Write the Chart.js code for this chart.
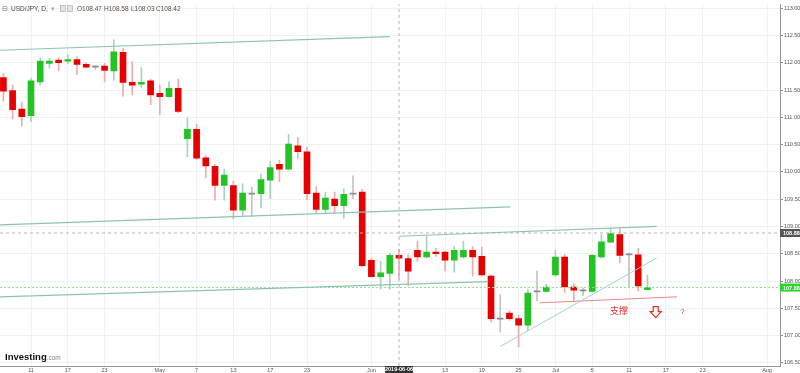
<!DOCTYPE html>
<html>
<head>
<meta charset="utf-8">
<script src="https://cdn.jsdelivr.net/npm/chart.js@4.4.1/dist/chart.umd.min.js"></script>
<style>
    html, body { margin: 0; padding: 0; background: #fff; }
    #wrap { width: 800px; height: 373px; position: relative; }
</style>
</head>
<body>
<div id="wrap"><canvas id="usdjpyChart"></canvas></div>
<script>
// USD/JPY daily candles, one entry per trading day from Apr 8 to Jul 15 (index 1..71)
const openP = [111.73, 111.49, 111.15, 111.03, 111.65, 111.99, 112.05, 112.03, 112.06, 111.97,
    111.92, 111.94, 111.85, 112.19, 111.64, 111.61, 111.67, 111.44, 111.38, 111.53,
    110.61, 110.78, 110.26, 110.10, 109.75, 109.75, 109.30, 109.61, 109.60, 109.85,
    110.14, 110.05, 110.48, 110.37, 109.61, 109.31, 109.50, 109.38, 109.61, 109.63,
    108.38, 108.08, 108.14, 108.47, 108.41, 108.56, 108.44, 108.53, 108.53, 108.38,
    108.44, 108.56, 108.45, 108.09, 107.31, 107.41, 107.31, 107.19, 107.80, 107.81,
    108.11, 108.44, 107.89, 107.83, 107.81, 108.44, 108.71, 108.85, 108.48, 108.48,
    107.84];
const highP = [111.80, 111.59, 111.28, 111.72, 112.09, 112.08, 112.09, 112.15, 112.11, 112.00,
    111.95, 111.99, 112.42, 112.26, 112.02, 111.91, 111.70, 111.59, 111.65, 111.70,
    110.99, 110.87, 110.30, 110.14, 110.05, 109.83, 109.78, 109.72, 109.96, 110.19,
    110.21, 110.69, 110.63, 110.45, 109.73, 109.63, 109.63, 109.69, 109.93, 109.68,
    108.42, 108.36, 108.51, 108.58, 108.48, 108.73, 108.82, 108.60, 108.54, 108.63,
    108.73, 108.63, 108.62, 108.11, 107.75, 107.46, 107.37, 107.85, 108.18, 107.94,
    108.56, 108.49, 107.95, 107.87, 108.49, 108.85, 108.97, 108.97, 108.51, 108.60,
    108.11];
const lowP = [111.30, 110.97, 110.84, 110.92, 111.59, 111.90, 111.85, 111.99, 111.78, 111.91,
    111.88, 111.65, 111.68, 111.39, 111.41, 111.55, 111.23, 111.05, 111.37, 111.08,
    110.28, 110.23, 109.89, 109.48, 109.48, 109.14, 109.18, 109.18, 109.34, 109.51,
    109.82, 110.03, 110.25, 109.49, 109.25, 109.23, 109.25, 109.15, 109.51, 108.26,
    108.07, 107.85, 107.85, 108.03, 107.91, 108.36, 108.42, 108.45, 108.18, 108.16,
    108.42, 108.09, 108.09, 107.25, 107.06, 107.28, 106.79, 107.09, 107.64, 107.80,
    108.09, 107.79, 107.64, 107.73, 107.80, 108.42, 108.71, 108.33, 107.88, 107.82,
    107.84];
const closeP = [111.48, 111.14, 111.01, 111.67, 112.03, 112.03, 112.00, 112.06, 111.97, 111.92,
    111.94, 111.86, 112.20, 111.64, 111.59, 111.64, 111.41, 111.38, 111.53, 111.11,
    110.78, 110.25, 110.11, 109.75, 109.94, 109.30, 109.61, 109.59, 109.86, 110.08,
    110.05, 110.51, 110.37, 109.60, 109.31, 109.52, 109.38, 109.59, 109.59, 108.28,
    108.08, 108.15, 108.47, 108.42, 108.18, 108.44, 108.53, 108.50, 108.38, 108.56,
    108.56, 108.44, 108.11, 107.31, 107.30, 107.31, 107.19, 107.78, 107.81, 107.89,
    108.44, 107.89, 107.83, 107.82, 108.47, 108.72, 108.87, 108.47, 108.50, 107.91,
    107.88];

// x axis labels (trading-day index -> text)
const tickIdx = [4, 8, 12, 18, 22, 26, 30, 34, 41, 49, 53, 57, 61, 65, 69, 73, 77, 84];
const tickText = ['11', '17', '23', 'May', '7', '13', '17', '23', 'Jun', '13', '19', '25', 'Jul', '5', '11', '17', '23', 'Aug'];

// hand drawn lines, [index, price] end points
const lineTop = [[0.6, 112.23], [43.0, 112.48]];
const lineMid = [[0.6, 109.03], [56.1, 109.36]];
const lineLow = [[0.6, 107.71], [53.7, 107.99]];
const lineHigh = [[44.0, 108.82], [72.0, 109.00]];
const lineRise = [[55.0, 106.80], [72.0, 108.42]];
const lineSupport = [[59.3, 107.60], [74.2, 107.71]];

const crossIdx = 44;
const crossPrice = 108.88;
const crossDate = '2019-06-06';

const X_MIN = 0.63, X_MAX = 85.41;
const Y_MIN = 106.442, Y_MAX = 113.072;

const UP = '#22c322', DOWN = '#e60000', FLAT = '#8a8a8a';

function candleColor(i) {
    const d = closeP[i] - openP[i];
    if (Math.abs(d) < 0.025) return FLAT;
    return d > 0 ? UP : DOWN;
}
function wickColor(i) {
    const c = candleColor(i);
    if (c === UP) return '#a2d6bd';
    if (c === DOWN) return '#f2abab';
    return '#c4c4c4';
}

function segment(pts, color, width, dash) {
    return {
        type: 'line',
        data: pts.map(p => ({ x: p[0], y: p[1] })),
        borderColor: color,
        borderWidth: width,
        borderDash: dash || [],
        pointRadius: 0,
        fill: false,
        order: -1
    };
}

const overlay = {
    id: 'overlay',
    afterDraw(chart) {
        const ctx = chart.ctx;
        const x = chart.scales.x, y = chart.scales.y;
        const area = chart.chartArea;
        ctx.save();

        // header line
        const h = crossIdx - 1;
        ctx.textBaseline = 'middle';
        ctx.font = '6.5px Arial, "Liberation Sans"';
        ctx.fillStyle = '#777';
        ctx.fillText('⊟', 2, 9);
        ctx.fillStyle = '#444';
        ctx.fillText('USD/JPY, D,', 11, 9);
        ctx.fillStyle = '#aaa';
        ctx.fillText('▾', 51, 9);
        ctx.fillStyle = '#e4e4e4';
        ctx.strokeStyle = '#bbb';
        ctx.lineWidth = 0.8;
        ctx.fillRect(60.5, 5.5, 5, 6); ctx.strokeRect(60.5, 5.5, 5, 6);
        ctx.fillRect(67.5, 5.5, 5, 6); ctx.strokeRect(67.5, 5.5, 5, 6);
        ctx.fillStyle = '#5a4a44';
        ctx.fillText('O' + openP[h].toFixed(2), 77, 9);
        ctx.fillText('H' + highP[h].toFixed(2), 104, 9);
        ctx.fillText('L' + lowP[h].toFixed(2), 131, 9);
        ctx.fillText('C' + closeP[h].toFixed(2), 156, 9);

        // logo
        ctx.textBaseline = 'alphabetic';
        ctx.fillStyle = '#111';
        ctx.font = 'bold 9.5px Arial, "Liberation Sans"';
        ctx.fillText('Investing', 5, 360);
        const w = ctx.measureText('Investing').width;
        ctx.fillStyle = '#888';
        ctx.font = '6.5px Arial, "Liberation Sans"';
        ctx.fillText('.com', 5 + w, 360);

        // price boxes on the right axis
        ctx.textBaseline = 'middle';
        ctx.font = 'bold 5.5px Arial, "Liberation Sans"';
        const boxes = [[crossPrice, '#555'], [closeP[closeP.length - 1], '#2bd42b']];
        boxes.forEach(b => {
            const py = y.getPixelForValue(b[0]);
            ctx.fillStyle = b[1];
            ctx.fillRect(area.right, py - 4, chart.width - area.right, 8);
            ctx.fillStyle = '#fff';
            ctx.fillText(b[0].toFixed(2), area.right + 3, py + 0.5);
        });

        // date box under the crosshair
        const cx = x.getPixelForValue(crossIdx);
        ctx.fillStyle = '#333';
        ctx.fillRect(cx - 14, area.bottom, 28, chart.height - area.bottom);
        ctx.fillStyle = '#fff';
        ctx.textAlign = 'center';
        ctx.fillText(crossDate, cx, area.bottom + 3.5);

        // notes
        ctx.fillStyle = '#e23030';
        ctx.font = '9px "Noto Sans CJK SC"';
        ctx.fillText('支撑', x.getPixelForValue(67.9), y.getPixelForValue(107.46));
        ctx.font = '8px Arial, "Liberation Sans"';
        ctx.fillText('?', x.getPixelForValue(74.8), y.getPixelForValue(107.44));

        // down arrow
        const ax = x.getPixelForValue(71.9), ay = y.getPixelForValue(107.53);
        ctx.strokeStyle = '#e23030';
        ctx.lineWidth = 1.2;
        ctx.beginPath();
        ctx.moveTo(ax - 2.5, ay);
        ctx.lineTo(ax + 2.5, ay);
        ctx.lineTo(ax + 2.5, ay + 5);
        ctx.lineTo(ax + 5.5, ay + 5);
        ctx.lineTo(ax, ay + 11);
        ctx.lineTo(ax - 5.5, ay + 5);
        ctx.lineTo(ax - 2.5, ay + 5);
        ctx.closePath();
        ctx.stroke();

        ctx.restore();
    }
};

const ctx = document.getElementById('usdjpyChart').getContext('2d');
const chart = new Chart(ctx, {
    type: 'bar',
    data: {
        datasets: [
            {
                label: 'body',
                data: openP.map((o, i) => ({ x: i + 1, y: [o, closeP[i]] })),
                backgroundColor: openP.map((o, i) => candleColor(i)),
                borderColor: openP.map((o, i) => candleColor(i)),
                borderWidth: 0,
                barThickness: 6,
                minBarLength: 1,
                grouped: false,
                order: 0
            },
            {
                label: 'wick',
                data: lowP.map((l, i) => ({ x: i + 1, y: [l, highP[i]] })),
                backgroundColor: lowP.map((l, i) => wickColor(i)),
                borderWidth: 0,
                barThickness: 1,
                grouped: false,
                order: 1
            },
            segment(lineTop, '#8fc2b6', 1.2),
            segment(lineMid, '#8fc2b6', 1.2),
            segment(lineLow, '#8fc2b6', 1.2),
            segment(lineHigh, '#8fc2b6', 1.2),
            segment(lineRise, '#9ed3d3', 1),
            segment(lineSupport, '#ea8a8a', 1),
            segment([[X_MIN, crossPrice], [X_MAX, crossPrice]], '#b5b5b5', 1, [3, 3]),
            segment([[X_MIN, closeP[closeP.length - 1]], [X_MAX, closeP[closeP.length - 1]]], '#8ee08e', 1, [2, 2]),
            segment([[crossIdx, Y_MIN], [crossIdx, Y_MAX]], '#b5b5b5', 1, [3, 3])
        ]
    },
    options: {
        responsive: true,
        maintainAspectRatio: false,
        animation: false,
        layout: { padding: 0 },
        plugins: {
            legend: { display: false },
            tooltip: { enabled: false }
        },
        scales: {
            x: {
                type: 'linear',
                min: X_MIN,
                max: X_MAX,
                offset: false,
                afterBuildTicks: scale => {
                    scale.ticks = tickIdx.map(v => ({ value: v }));
                },
                afterFit: scale => { scale.height = 7; },
                ticks: {
                    autoSkip: false,
                    maxRotation: 0,
                    padding: 0,
                    color: '#555',
                    font: { size: 5.5 },
                    callback: v => tickText[tickIdx.indexOf(v)]
                },
                grid: { offset: false, color: '#f1f1f1', tickLength: 1, tickColor: '#999' },
                border: { display: true, color: '#999' }
            },
            y: {
                position: 'right',
                min: Y_MIN,
                max: Y_MAX,
                afterFit: scale => { scale.width = 20; },
                ticks: {
                    stepSize: 0.5,
                    includeBounds: false,
                    padding: 1,
                    color: '#555',
                    font: { size: 5.5 },
                    callback: v => v.toFixed(2)
                },
                grid: { color: '#f1f1f1', tickLength: 3, tickColor: '#888' },
                border: { display: true, color: '#999' }
            }
        }
    },
    plugins: [overlay]
});
</script>
</body>
</html>
